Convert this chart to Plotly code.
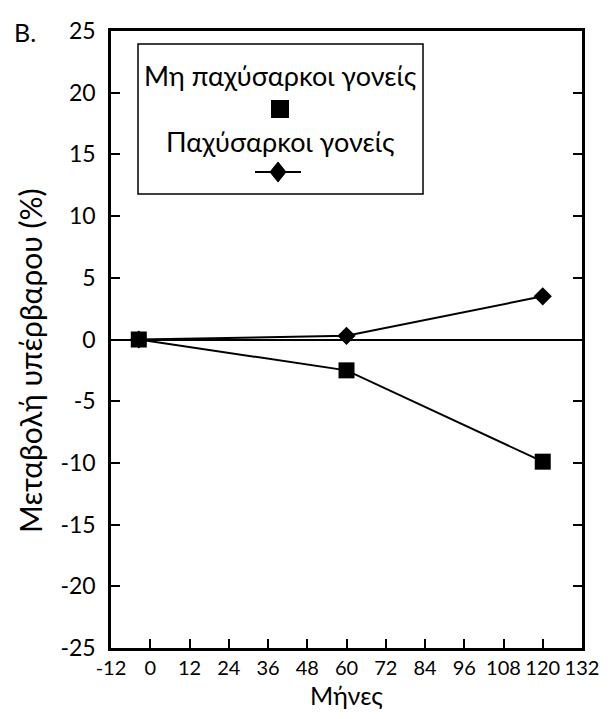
import plotly.graph_objects as go

# Data
months_nonobese = [-3.5, 60, 120]
change_nonobese = [0.0, -2.5, -9.9]
months_obese = [-3.5, 60, 120]
change_obese = [0.0, 0.3, 3.5]
name_nonobese = "Μη παχύσαρκοι γονείς"
name_obese = "Παχύσαρκοι γονείς"
x_title = "Μήνες"
y_title = "Μεταβολή υπέρβαρου (%)"
x_ticks = list(range(-12, 133, 12))
y_ticks = list(range(-25, 26, 5))

W, H = 616, 719
ML, MR, MT, MB = 111, 34, 31, 71
PW, PH = W - ML - MR, H - MT - MB

def px(x):
    return (x - ML) / PW

def py(y):
    return 1 - (y - MT) / PH

FONT = "Lato"

fig = go.Figure()
fig.add_trace(go.Scatter(x=months_obese, y=change_obese, mode="lines+markers",
                         name=name_obese, line=dict(color="black", width=2),
                         marker=dict(symbol="diamond", size=14, color="black"),
                         showlegend=False))
fig.add_trace(go.Scatter(x=months_nonobese, y=change_nonobese, mode="lines+markers",
                         name=name_nonobese, line=dict(color="black", width=2),
                         marker=dict(symbol="square", size=16, color="black"),
                         showlegend=False))

shapes = []
# legend box
shapes.append(dict(type="rect", xref="paper", yref="paper",
                   x0=px(138), x1=px(423), y0=py(194), y1=py(44),
                   line=dict(color="black", width=1.5), fillcolor="white", layer="below"))
# square glyph
shapes.append(dict(type="rect", xref="paper", yref="paper",
                   x0=px(271), x1=px(289), y0=py(118), y1=py(100),
                   line=dict(width=0), fillcolor="black"))
# diamond glyph line
shapes.append(dict(type="line", xref="paper", yref="paper",
                   x0=px(255), x1=px(301), y0=py(172), y1=py(172),
                   line=dict(color="black", width=2)))
# diamond glyph
cx, cy = 278, 172
pts = [(cx, cy - 10), (cx + 8, cy), (cx, cy + 10), (cx - 8, cy)]
path = "M " + " L ".join(f"{px(a)},{py(b)}" for a, b in pts) + " Z"
shapes.append(dict(type="path", xref="paper", yref="paper", path=path,
                   fillcolor="black", line=dict(color="black", width=1)))

annotations = [
    dict(text=name_nonobese, xref="paper", yref="paper", x=px(280), y=py(75),
         xanchor="center", yanchor="middle", showarrow=False,
         font=dict(family=FONT, size=27, color="black")),
    dict(text=name_obese, xref="paper", yref="paper", x=px(280), y=py(141),
         xanchor="center", yanchor="middle", showarrow=False,
         font=dict(family=FONT, size=27, color="black")),
    dict(text="B.", xref="paper", yref="paper", x=px(12), y=py(32),
         xanchor="left", yanchor="middle", showarrow=False,
         font=dict(family=FONT, size=25, color="black")),
    dict(text=y_title, xref="paper", yref="paper", x=px(30), y=py(361),
         xanchor="center", yanchor="middle", showarrow=False, textangle=-90,
         font=dict(family=FONT, size=30, color="black")),
]

fig.update_layout(
    width=W, height=H,
    margin=dict(l=ML, r=MR, t=MT, b=MB, pad=0),
    paper_bgcolor="white", plot_bgcolor="white",
    font=dict(family=FONT, size=22, color="black"),
    shapes=shapes, annotations=annotations,
    xaxis=dict(range=[-12, 132], tickvals=x_ticks, ticktext=[str(v) for v in x_ticks],
               tickangle=0,
               ticks="inside", ticklen=9, tickwidth=2, tickcolor="black",
               showline=True, linecolor="black", linewidth=2.5, mirror=True,
               showgrid=False, zeroline=False,
               tickfont=dict(family=FONT, size=20, color="black"),
               title=dict(text=x_title, font=dict(family=FONT, size=25, color="black"), standoff=10)),
    yaxis=dict(range=[-25, 25], tickvals=y_ticks, ticktext=[str(v) for v in y_ticks],
               ticks="inside", ticklen=9, tickwidth=2, tickcolor="black",
               showline=True, linecolor="black", linewidth=2.5, mirror="ticks",
               showgrid=False, zeroline=True, zerolinecolor="black", zerolinewidth=2,
               ticklabelstandoff=8,
               tickfont=dict(family=FONT, size=23, color="black")),
)

fig.write_html("out.html")
